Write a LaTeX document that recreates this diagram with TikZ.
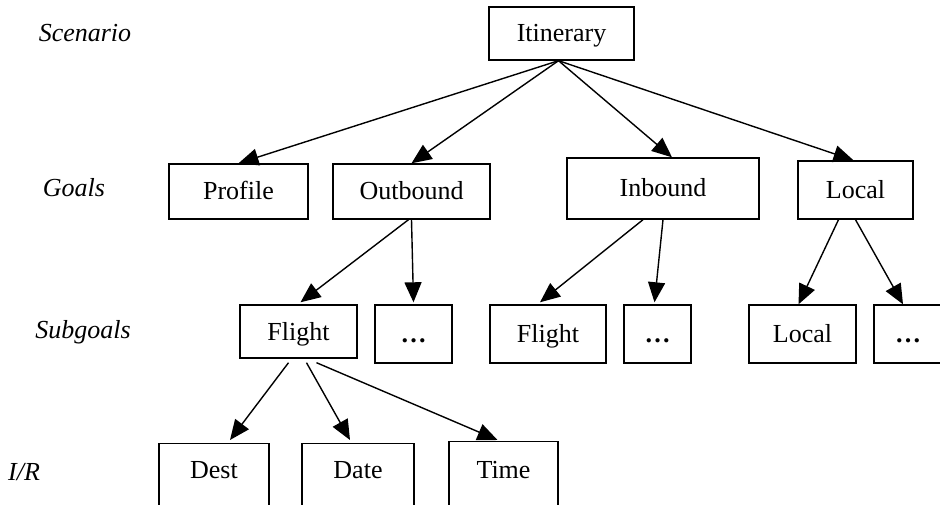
\documentclass[tikz,border=0pt]{standalone}
\usepackage{fontspec}
\setmainfont{Liberation Serif}
\usetikzlibrary{arrows.meta,positioning}

\begin{document}
\begin{tikzpicture}[
    x=1pt, y=-1pt,
    box/.style 2 args={rectangle, draw, line width=1.4pt, minimum width=#1, minimum height=#2,
        text height=18pt, text depth=1pt, inner sep=0pt, font=\fontsize{26}{30}\selectfont},
    leaf/.style={rectangle, draw, line width=1.4pt, minimum width=#1, anchor=north,
        text height=35pt, text depth=40pt, inner sep=0pt, font=\fontsize{26}{30}\selectfont},
    lbl/.style={font=\fontsize{26}{30}\selectfont\itshape},
    arrow/.style={-{Triangle[length=20pt, width=17pt]}, line width=1.4pt}
]
    \useasboundingbox (0,0) rectangle (940,505);
    \clip (0,0) rectangle (940,505);

    % Level labels — left side
    \node[lbl] (scen)  at (85,33)  {Scenario};
    \node[lbl] (goals) at (74,188) {Goals};
    \node[lbl] (subg)  at (83,332) {Subgoals};
    \node[lbl] (ir)    at (24,472) {I/R};

    % Scenario
    \node[box={145pt}{53pt}] (itin) at (561.5,33.5) {Itinerary};

    % Goals
    \node[box={139pt}{55pt}] (profile) at (238.5,191.5) {Profile};
    \node[box={157pt}{55pt}] (outb)    at (411.5,191.5) {Outbound};
    \node[box={192pt}{61pt}] (inb)     at (663,188.5)   {Inbound};
    \node[box={115pt}{58pt}] (locg)    at (855.5,190)   {Local};

    % Subgoals
    \node[box={117pt}{53pt}] (flight1) at (298.5,331.5) {Flight};
    \node[box={77pt}{58pt}]  (dots1)   at (413.5,334)   {\textbf{\ldots}};
    \node[box={116pt}{58pt}] (flight2) at (548,334)     {Flight};
    \node[box={67pt}{58pt}]  (dots2)   at (657.5,334)   {\textbf{\ldots}};
    \node[box={107pt}{58pt}] (local2)  at (802.5,334)   {Local};
    \node[box={68pt}{58pt}]  (dots3)   at (908,334)     {\textbf{\ldots}};

    % I/R — cut off at the bottom
    \node[leaf=110pt] (dest) at (214,443) {Dest};
    \node[leaf=112pt] (date) at (358,443) {Date};
    \node[leaf=109pt, text height=37pt] (time) at (503.5,441) {Time};

    % Scenario -> goals
    \draw[arrow] ([xshift=-3pt]itin.south) -- (profile.north);
    \draw[arrow] ([xshift=-3pt]itin.south) -- (outb.north);
    \draw[arrow] ([xshift=-3pt]itin.south) -- ([xshift=9pt]inb.north);
    \draw[arrow] ([xshift=-3pt]itin.south) -- ([xshift=-2pt]locg.north);

    % Goals -> subgoals
    \draw[arrow] ([xshift=-3pt]outb.south) -- ([xshift=2pt,yshift=2pt]flight1.north);
    \draw[arrow] (outb.south) -- ([yshift=2pt]dots1.north);
    \draw[arrow] ([xshift=-20pt]inb.south) -- ([xshift=-8pt,yshift=2pt]flight2.north);
    \draw[arrow] (inb.south) -- ([xshift=-3pt,yshift=2pt]dots2.north);
    \draw[arrow] ([xshift=-17pt]locg.south) -- ([xshift=-4pt]local2.north);
    \draw[arrow] (locg.south) -- ([xshift=-5pt]dots3.north);

    % Subgoal -> I/R
    \draw[arrow] ([xshift=-10pt,yshift=-4pt]flight1.south) -- ([xshift=16pt,yshift=3pt]dest.north);
    \draw[arrow] ([xshift=8pt,yshift=-4pt]flight1.south) -- ([xshift=-8pt,yshift=3pt]date.north);
    \draw[arrow] ([xshift=18pt,yshift=-4pt]flight1.south) -- ([xshift=-6pt,yshift=1pt]time.north);
\end{tikzpicture}
\end{document}
